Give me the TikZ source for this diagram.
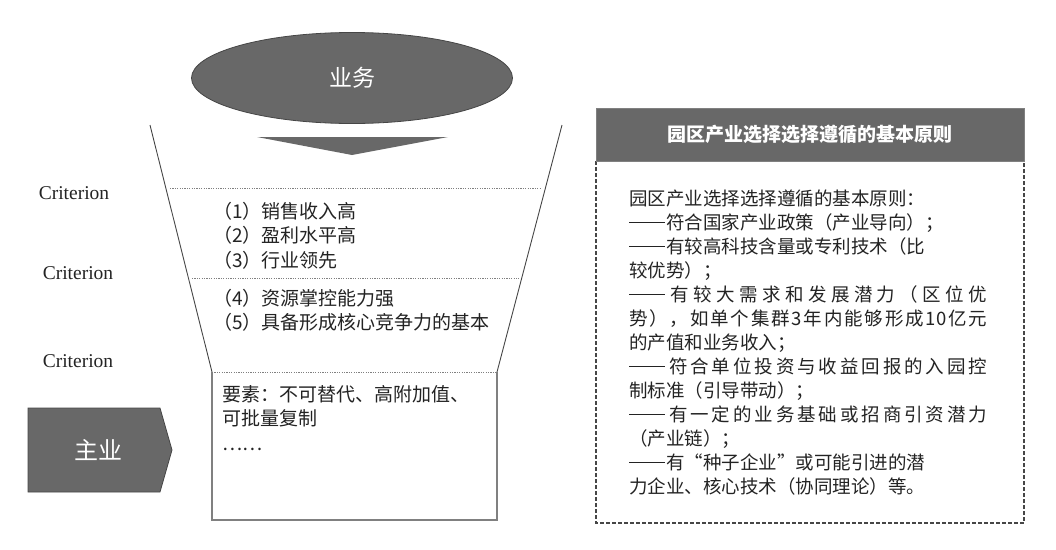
\documentclass[tikz,border=0pt]{standalone}
\usepackage{fontspec}
\setmainfont{Liberation Serif}
\newfontfamily\cjk{Noto Sans CJK SC}
\usetikzlibrary{shapes.geometric}
\definecolor{fillgray}{RGB}{104,104,104}
\definecolor{linegray}{RGB}{70,70,70}
\definecolor{txt}{RGB}{35,35,35}
\makeatletter
\def\sp@endmark{\relax}
\def\spreadfirst#1{#1\spreadrest}
\def\spreadrest#1{\def\sp@tmp{#1}\ifx\sp@tmp\sp@endmark\else\hfil#1\expandafter\spreadrest\fi}
\makeatother
\newcommand\jl[1]{\makebox[358pt][s]{\spreadfirst#1\relax}}
\newcommand\dd{\makebox[2em][l]{\rule[0.36em]{1.95em}{0.065em}}}
\newcommand\cjklq{\makebox[1em][r]{“}}
\newcommand\cjkrq{\makebox[1em][l]{”}}
\tikzset{
  darkshape/.style={fill=fillgray, draw=linegray, line width=0.8pt},
  funnelline/.style={draw=linegray, line width=0.9pt},
  dotline/.style={draw=gray, line width=1pt, dash pattern=on 1.2pt off 1.2pt},
  crit/.style={font=\fontsize{19.5}{21}\selectfont, text=txt},
  body/.style={font=\cjk\fontsize{19}{24.5}\selectfont, text=txt, inner sep=0pt, align=left, anchor=north west},
  whitelabel/.style={text=white},
}
\begin{document}
\begin{tikzpicture}[x=1pt,y=-1pt]
\useasboundingbox (0,0) rectangle (1056,549);
% ellipse
\node[ellipse, darkshape, minimum width=321pt, minimum height=91pt, whitelabel, font=\cjk\fontsize{23}{25}\selectfont] (yw) at (352,78) {业务};
% triangle
\fill[fillgray] (257,137) -- (448,137) -- (352,155) -- cycle;
% funnel
\coordinate (fl1) at (150,125);
\coordinate (fl2) at (212,372);
\coordinate (fr1) at (562,125);
\coordinate (fr2) at (497,372);
\draw[funnelline] (fl1) -- (fl2);
\draw[funnelline] (fr1) -- (fr2);
\draw[dotline] (170,188) -- (541,188);
\draw[dotline] (192,278) -- (519,278);
% bottom rect
\draw[dotline] (fl2) -- (fr2);
\draw[draw=gray, line width=1.2pt] (fl2) -- (212,520) -- (497,520) -- (fr2);
% criterion labels
\node[crit] (c1) at (74,193) {Criterion};
\node[crit] (c2) at (78,273) {Criterion};
\node[crit] (c3) at (78,361) {Criterion};
% funnel texts
\node[body] (t1) at (213,202) {（1）销售收入高\\（2）盈利水平高\\（3）行业领先};
\node[body] (t2) at (213,289) {（4）资源掌控能力强\\（5）具备形成核心竞争力的基本};
\node[body] (t3) at (222,385) {要素：不可替代、高附加值、\\可批量复制\\……};
% main arrow
\draw[darkshape] (28,408) -- (160,408) -- (172,450) -- (160,492) -- (28,492) -- cycle;
\node[whitelabel, font=\cjk\fontsize{24}{26}\selectfont] (zy) at (98,450) {主业};
% right panel
\draw[draw=linegray, line width=1.2pt, dash pattern=on 4pt off 2pt] (596,161) rectangle (1024,523);
\node[fill=fillgray, draw=gray, minimum width=428pt, minimum height=53pt, anchor=north west, inner sep=0pt] (hdr) at (596,108) {};
\node[whitelabel, font=\cjk\bfseries\fontsize{19}{21}\selectfont] (hdrt) at (hdr.center) {园区产业选择选择遵循的基本原则};
\node[body, font=\cjk\fontsize{18.5}{24}\selectfont] (rb) at (629,190) {园区产业选择选择遵循的基本原则：\\
\dd 符合国家产业政策（产业导向）；\\
\dd 有较高科技含量或专利技术（比\\
较优势）；\\
\jl{{\dd}有较大需求和发展潜力（区位优}\\
\jl{势），如单个集群{3}年内能够形成{10}亿元}\\
的产值和业务收入；\\
\jl{{\dd}符合单位投资与收益回报的入园控}\\
制标准（引导带动）；\\
\jl{{\dd}有一定的业务基础或招商引资潜力}\\
（产业链）；\\
\dd 有\cjklq 种子企业\cjkrq 或可能引进的潜\\
力企业、核心技术（协同理论）等。};
\end{tikzpicture}
\end{document}
